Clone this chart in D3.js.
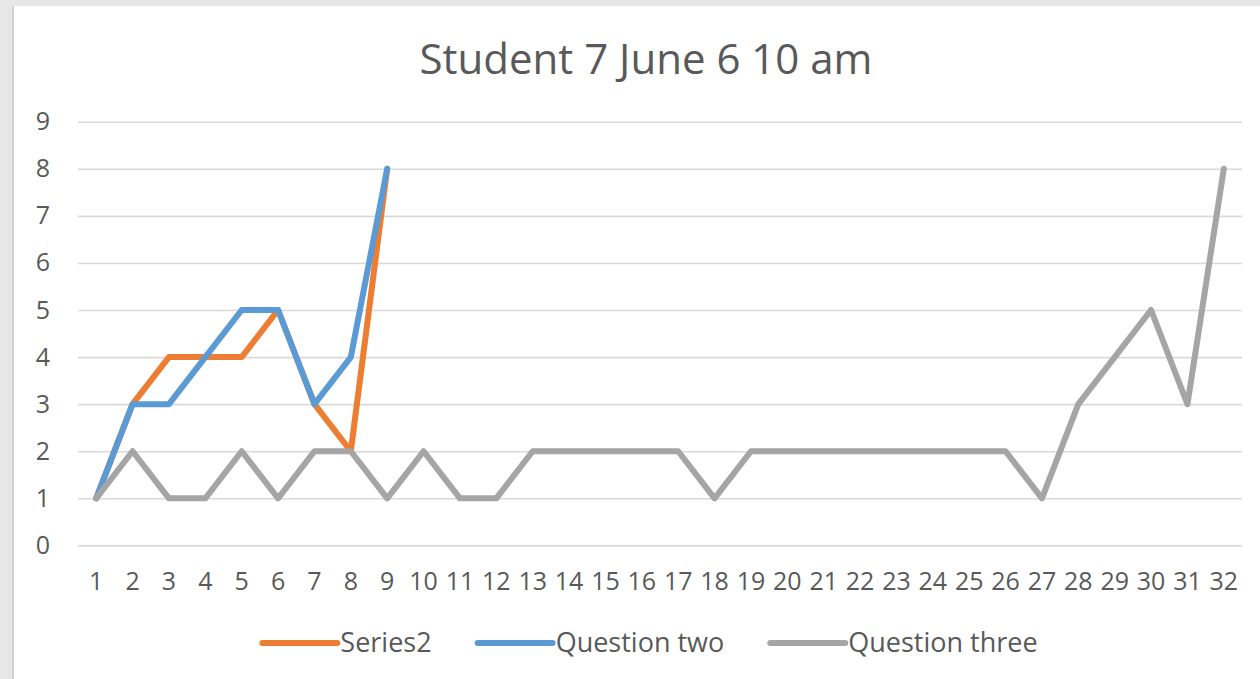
<!DOCTYPE html>
<html>
<head>
<meta charset="utf-8">
<script src="https://cdn.jsdelivr.net/npm/d3@7"></script>
<style>
	body {margin: 0; background: #e7e7e7;}
	text {font-family: "Open Sans", sans-serif; fill: #595959;}
</style>
</head>
<body>
<div id="chart"></div>
<script>
//Student 7 line chart

var title = "Student 7 June 6 10 am";
var categories = d3.range(1, 33).map(String);
var yTicks = [0, 1, 2, 3, 4, 5, 6, 7, 8, 9];
var seriesNames = ["Series2", "Question two", "Question three"];
var seriesColors = ["#ED7D31", "#5B9BD5", "#A5A5A5"];
var series2 = [1, 3, 4, 4, 4, 5, 3, 2, 8];
var questionTwo = [1, 3, 3, 4, 5, 5, 3, 4, 8];
var questionThree = [1, 2, 1, 1, 2, 1, 2, 2, 1, 2, 1, 1, 2, 2, 2, 2, 2, 1, 2, 2, 2, 2, 2, 2, 2, 2, 1, 3, 4, 5, 3, 8];

function linechart(divid, wd, ht) {
	var width = wd, height = ht;
	var left = 78, right = 1242, top = 121.7, bottom = 545.4;
	var svg;

	function initSVG() {
		d3.select(divid).select("svg").remove();
		svg = d3.select(divid).append("svg")
		.attr("width", width)
		.attr("height", height);

		svg.append("rect")
		.attr("x", 0).attr("y", 0)
		.attr("width", width).attr("height", height)
		.style("fill", "#e7e7e7");

		svg.append("rect")
		.attr("x", 13).attr("y", 6)
		.attr("width", width).attr("height", height)
		.style("fill", "#ffffff");

		svg.append("line")
		.attr("x1", 13).attr("x2", 13)
		.attr("y1", 6).attr("y2", height)
		.style("stroke", "#d2d2d2")
		.style("stroke-width", 2);
	}

	function draw() {
		var x = d3.scaleBand().domain(categories).range([left, right]);
		var y = d3.scaleLinear().domain([0, 9]).range([bottom, top]);

		svg.append("text")
		.attr("x", 646)
		.attr("y", 74)
		.attr("text-anchor", "middle")
		.style("font-size", "42px")
		.text(title);

		var yAxis = svg.append("g")
		.attr("transform", "translate(" + left + ",0)")
		.call(d3.axisLeft(y).tickValues(yTicks).tickSize(-(right - left)).tickPadding(28));
		yAxis.select(".domain").remove();
		yAxis.selectAll("line").style("stroke", "#d9d9d9").style("stroke-width", 1.6);
		yAxis.selectAll("text").style("font-size", "25px").style("font-family", "Open Sans").attr("fill", "#595959");

		var xAxis = svg.append("g")
		.attr("transform", "translate(0," + bottom + ")")
		.call(d3.axisBottom(x).tickSize(0).tickPadding(27));
		xAxis.select(".domain").remove();
		xAxis.selectAll("text").style("font-size", "25px").style("font-family", "Open Sans").attr("fill", "#595959");

		var line = d3.line()
		.x(function(d, i){return x(categories[i]) + x.bandwidth()/2})
		.y(function(d){return y(d)});

		var data = [series2, questionTwo, questionThree];
		svg.selectAll("path.series").data(data)
		.enter().append("path")
		.attr("class", "series")
		.attr("d", line)
		.style("fill", "none")
		.style("stroke", function(d, i){return seriesColors[i]})
		.style("stroke-width", 6)
		.style("stroke-linejoin", "round")
		.style("stroke-linecap", "round");

		// legend, measured then centred
		var legend = svg.append("g");
		var pos = 0, gap = 46, swatch = 75;
		var items = legend.selectAll("g").data(seriesNames)
		.enter().append("g");
		items.append("line")
		.attr("x1", 0).attr("x2", swatch)
		.attr("y1", 0).attr("y2", 0)
		.style("stroke", function(d, i){return seriesColors[i]})
		.style("stroke-width", 6)
		.style("stroke-linecap", "round");
		items.append("text")
		.attr("x", swatch + 3)
		.attr("y", 9)
		.style("font-size", "27px")
		.text(function(d){return d});
		items.each(function() {
			var g = d3.select(this);
			g.attr("transform", "translate(" + pos + ",0)");
			pos += swatch + 3 + g.select("text").node().getComputedTextLength() + gap;
		});
		pos -= gap;
		legend.attr("transform", "translate(" + (650 - pos/2) + ",643)");
	}

	initSVG();
	draw();
}

linechart("#chart", 1260, 679);
</script>
</body>
</html>
